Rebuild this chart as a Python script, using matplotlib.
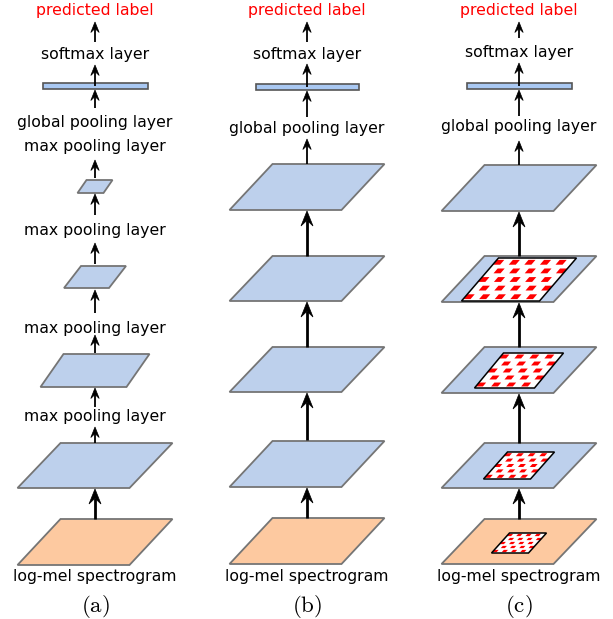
import numpy as np
import matplotlib
matplotlib.use("Agg")
import matplotlib.pyplot as plt
from matplotlib.patches import Polygon, Rectangle

W, H = 613, 619

# panel centres (px) and captions
panel_x = [95, 307, 519]
captions = ["(a)", "(b)", "(c)"]

BLUE = "#bdd0ec"
ORANGE = "#fdc9a0"
BAR = "#a9c8f2"
EDGE = "#757575"

# layers: (panel, top y, bottom y, top width, shear, colour)
layers = [
    (0, 180, 193, 26, 9, BLUE),
    (0, 266, 288, 45, 17, BLUE),
    (0, 354, 387, 86, 23, BLUE),
    (0, 443, 488, 112, 43, BLUE),
    (0, 519, 565, 112, 43, ORANGE),
    (1, 164, 210, 112, 43, BLUE),
    (1, 256, 301, 112, 43, BLUE),
    (1, 347, 392, 112, 43, BLUE),
    (1, 441, 487, 112, 43, BLUE),
    (1, 518, 564, 112, 43, ORANGE),
    (2, 165, 211, 112, 43, BLUE),
    (2, 256, 302, 112, 43, BLUE),
    (2, 347, 393, 112, 43, BLUE),
    (2, 443, 488, 112, 43, BLUE),
    (2, 519, 564, 112, 43, ORANGE),
]

# receptive-field patches in (c): (top, bottom, width, shear, cols)
patches_c = [
    (258, 301, 78, 37, 10),
    (353, 388, 60, 29, 8),
    (452, 479, 47, 24, 8),
    (533, 553, 37, 18, 8),
]

# fully connected bars: (panel, top y, bottom y, width)
bars = [(0, 83, 89, 105), (1, 84, 90, 103), (2, 83, 89, 105)]

# text labels: (panel, y, text, colour)
labels = [
    (0, 10, "predicted label", "red"),
    (0, 55, "softmax layer", "black"),
    (0, 123, "global pooling layer", "black"),
    (0, 147, "max pooling layer", "black"),
    (0, 230, "max pooling layer", "black"),
    (0, 328, "max pooling layer", "black"),
    (0, 416, "max pooling layer", "black"),
    (0, 576, "log-mel spectrogram", "black"),
    (1, 10, "predicted label", "red"),
    (1, 55, "softmax layer", "black"),
    (1, 128, "global pooling layer", "black"),
    (1, 577, "log-mel spectrogram", "black"),
    (2, 10, "predicted label", "red"),
    (2, 53, "softmax layer", "black"),
    (2, 127, "global pooling layer", "black"),
    (2, 577, "log-mel spectrogram", "black"),
]

# arrows: (panel, tail y, tip y, thick)
arrows = [
    (0, 42, 22, 0), (0, 86, 65, 0), (0, 108, 90, 0), (0, 178, 160, 0),
    (0, 215, 194, 0), (0, 264, 243, 0), (0, 313, 290, 0), (0, 353, 335, 0),
    (0, 407, 388, 0), (0, 443, 427, 0), (0, 519, 489, 1),
    (1, 42, 22, 0), (1, 87, 64, 0), (1, 117, 91, 0), (1, 164, 139, 0),
    (1, 256, 211, 1), (1, 347, 302, 1), (1, 440, 393, 1), (1, 518, 488, 1),
    (2, 38, 22, 0), (2, 86, 63, 0), (2, 116, 90, 0), (2, 165, 141, 0),
    (2, 256, 212, 1), (2, 347, 303, 1), (2, 443, 394, 1), (2, 519, 489, 1),
]


def para(cx, top, bot, w, sh, u0=0, u1=1, v0=0, v1=1):
    # parallelogram corners for the unit sub-rectangle [u0,u1]x[v0,v1]
    pts = []
    for u, v in [(u0, v0), (u1, v0), (u1, v1), (u0, v1)]:
        y = top + v * (bot - top)
        x = cx - w / 2 + u * w + sh * (0.5 - v)
        pts.append((x, y))
    return pts


def arrow(ax, x, y0, y1, thick):
    lw = 2.0 if thick else 1.3
    hl = 15 if thick else 10.5
    hw = 6 if thick else 4.2
    ax.plot([x, x], [y0, y1 + hl * 0.6], color="black", lw=lw, solid_capstyle="butt", zorder=5)
    head = [(x, y1), (x + hw, y1 + hl), (x, y1 + hl * 0.62), (x - hw, y1 + hl)]
    ax.add_patch(Polygon(head, closed=True, fc="black", ec="black", lw=0.5, zorder=6))


fig = plt.figure(figsize=(W / 100, H / 100), dpi=100)
ax = fig.add_axes([0, 0, 1, 1])
ax.set_xlim(0, W)
ax.set_ylim(H, 0)
ax.axis("off")

for p, top, bot, w, sh, col in layers:
    ax.add_patch(Polygon(para(panel_x[p], top, bot, w, sh), closed=True,
                         fc=col, ec=EDGE, lw=1.3, zorder=2))

for top, bot, w, sh, ncol in patches_c:
    cx = panel_x[2]
    ax.add_patch(Polygon(para(cx, top, bot, w, sh), closed=True,
                         fc="white", ec="none", zorder=3))
    nrow = 5
    for r in range(nrow):
        for c in range(ncol):
            if (r + c) % 2 == 0:
                u0, u1 = (c + 0.05) / ncol, (c + 0.95) / ncol
                v0 = (r + 0.22) / nrow
                v1 = (r + 0.78) / nrow
                ax.add_patch(Polygon(para(cx, top, bot, w, sh, u0, u1, v0, v1),
                                     closed=True, fc="#ff0000", ec="none", zorder=3))
    ax.add_patch(Polygon(para(cx, top, bot, w, sh), closed=True,
                         fc="none", ec="black", lw=1.1, zorder=4))

for p, top, bot, w in bars:
    ax.add_patch(Rectangle((panel_x[p] - w / 2, top), w, bot - top,
                           fc=BAR, ec="#555555", lw=1.2, zorder=2))

for p, y, t, col in labels:
    ax.text(panel_x[p], y, t, ha="center", va="center", fontsize=11.3,
            color=col, family="DejaVu Sans", zorder=7)

for p, y0, y1, thick in arrows:
    arrow(ax, panel_x[p], y0, y1, thick)

plt.rcParams["mathtext.fontset"] = "cm"
for p, cap in enumerate(captions):
    ax.text(panel_x[p], 606, r"$\mathrm{%s}$" % cap, ha="center", va="center",
            fontsize=16.5, zorder=7)

fig.savefig("out.png", dpi=100)
